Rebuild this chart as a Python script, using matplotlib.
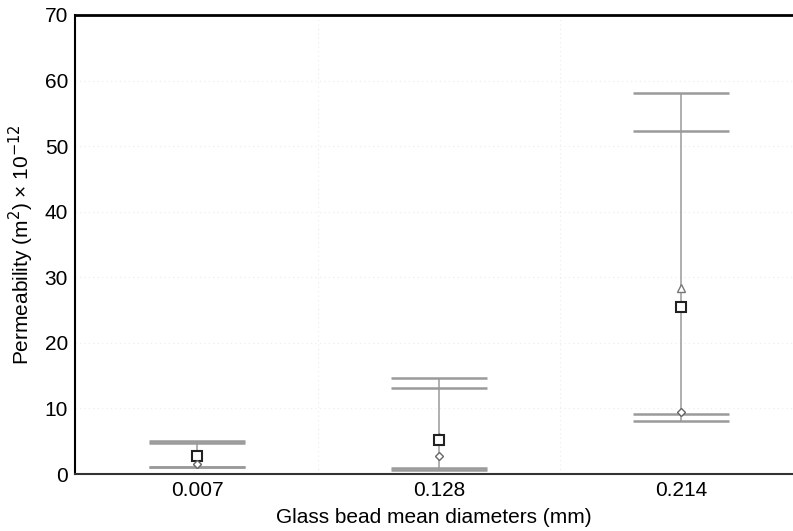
import numpy as np
import matplotlib
matplotlib.use("Agg")
import matplotlib.pyplot as plt

plt.rcParams['font.family'] = ['Liberation Sans', 'DejaVu Sans']

# glass bead diameters (mm) and read-off permeability values (x 1e-12 m^2)
diameters = ["0.007", "0.128", "0.214"]
upper_a = [5.1, 14.6, 58.1]
upper_b = [4.7, 13.1, 52.3]
lower_a = [1.1, 0.9, 9.1]
lower_b = [1.1, 0.6, 8.1]
tri_vals = [2.9, 5.6, 28.3]
sq_vals = [2.7, 5.2, 25.4]
dia_vals = [1.5, 2.8, 9.4]

x = np.arange(1, len(diameters) + 1)
capw = 0.2

fig = plt.figure(figsize=(7.93, 5.31), dpi=100)
ax = fig.add_axes([75/793, 1 - 474/531, 1 - 75/793, (474 - 15)/531])

# faint dotted grid
for gy in [10, 20, 30, 40, 50, 60]:
    ax.axhline(gy, color='#ececec', lw=0.8, ls=(0, (1, 3)), zorder=0)
for gx in [1.5, 2.5]:
    ax.axvline(gx, color='#ececec', lw=0.8, ls=(0, (1, 3)), zorder=0)

gray = '#9a9a9a'
for i in range(len(x)):
    lo = min(lower_a[i], lower_b[i])
    hi = max(upper_a[i], upper_b[i])
    ax.vlines(x[i], lo, hi, color=gray, lw=1.1, zorder=2)
    for v in [upper_a[i], upper_b[i], lower_a[i], lower_b[i]]:
        ax.hlines(v, x[i] - capw, x[i] + capw, color=gray, lw=1.8, zorder=2)

ax.plot(x, tri_vals, ls='none', marker='^', ms=5.5, mfc='white', mec='#777777', mew=1.0, zorder=3)
ax.plot(x, sq_vals, ls='none', marker='s', ms=7, mfc='white', mec='#222222', mew=1.5, zorder=4)
ax.plot(x, dia_vals, ls='none', marker='D', ms=4.5, mfc='white', mec='#666666', mew=1.0, zorder=4)

ax.set_xlim(0.496, 3.463)
ax.set_ylim(0, 70)
ax.set_xticks(x)
ax.set_xticklabels(diameters)
ax.set_yticks(np.arange(0, 71, 10))
ax.tick_params(length=0, labelsize=15, pad=5)

ax.spines['right'].set_visible(False)
ax.spines['top'].set_linewidth(2)
ax.spines['left'].set_linewidth(1.5)
ax.spines['bottom'].set_linewidth(1.5)
ax.spines['bottom'].set_color('#333333')

ax.set_xlabel("Glass bead mean diameters (mm)", fontsize=15, labelpad=6)
ax.set_ylabel("Permeability (m$^2$) × 10$^{-12}$", fontsize=15, labelpad=6)

fig.savefig("out.png", dpi=100)
